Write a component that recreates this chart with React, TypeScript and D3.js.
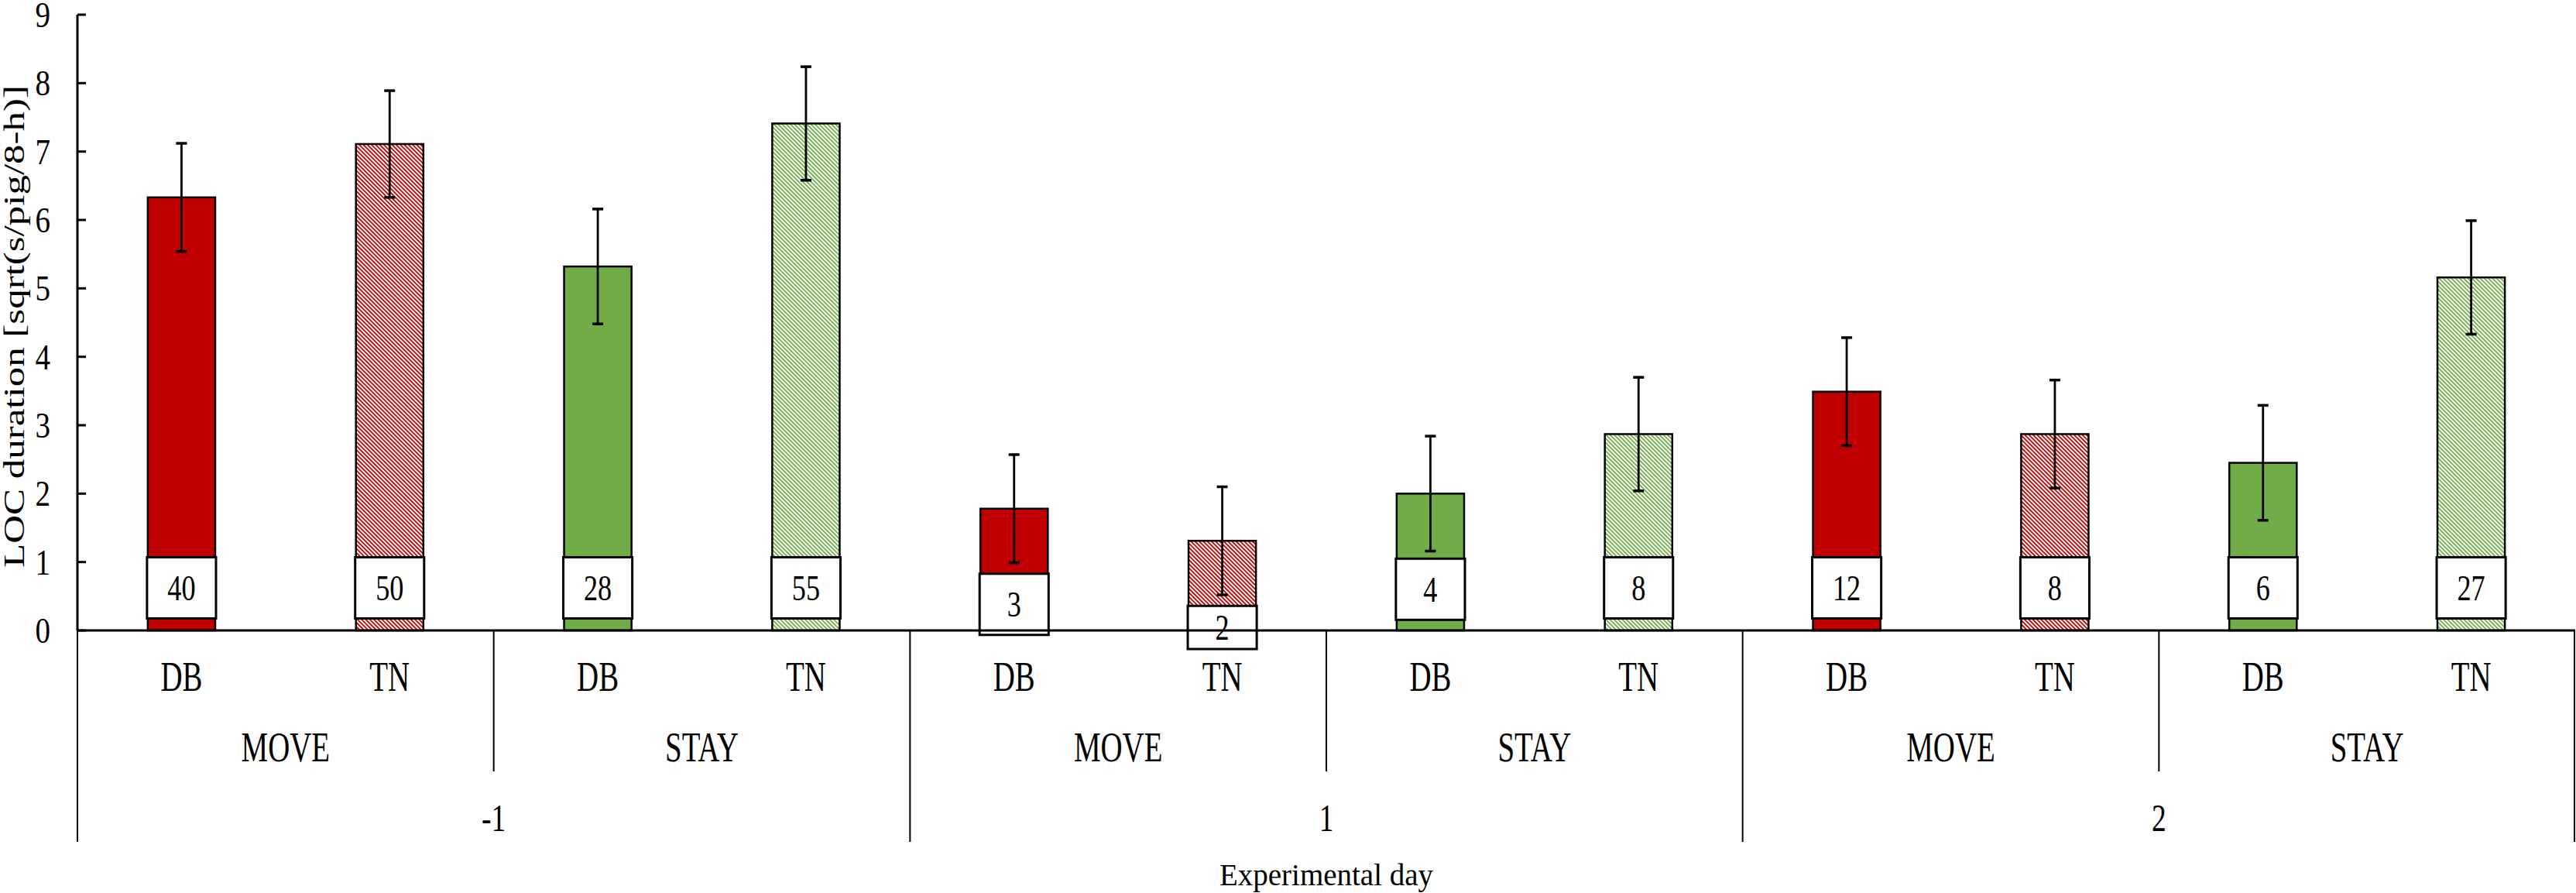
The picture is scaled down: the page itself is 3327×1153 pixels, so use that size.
import * as d3 from "d3";

// LOC duration by experimental day, group and treatment
const days = ["-1", "1", "2"];
const groups = ["MOVE", "STAY"];
const treatments = ["DB", "TN"];

// order: day > group > treatment
const means = [6.33, 7.11, 5.32, 7.41, 1.78, 1.31, 2.0, 2.87, 3.49, 2.87, 2.45, 5.16];
const errors = [0.79, 0.78, 0.84, 0.83, 0.79, 0.79, 0.84, 0.83, 0.79, 0.79, 0.84, 0.83];
const counts = [40, 50, 28, 55, 3, 2, 4, 8, 12, 8, 6, 27];

const yTicks = [0, 1, 2, 3, 4, 5, 6, 7, 8, 9];

const W = 3327;
const H = 1153;
const left = 100;
const right = 3326;
const top = 19;
const base = 814;
const plotBottom = 838; // labels get clipped here

const RED = "#C00000";
const GREEN = "#70AD47";
const FONT = "'Liberation Serif', 'Times New Roman', serif";

type Bar = { key: string; day: string; group: string; trt: string; mean: number; se: number; n: number };

const bars: Bar[] = [];
days.forEach((day) =>
  groups.forEach((group) =>
    treatments.forEach((trt) => {
      const i = bars.length;
      bars.push({ key: `${day}|${group}|${trt}`, day, group, trt, mean: means[i], se: errors[i], n: counts[i] });
    })
  )
);

export default function App() {
  const x = d3
    .scaleBand<string>()
    .domain(bars.map((b) => b.key))
    .range([left, right])
    .paddingInner(0.676)
    .paddingOuter(0.338);
  const y = d3.scaleLinear().domain([0, 9]).range([base, top]);

  const step = x.step();
  const bw = x.bandwidth();
  const cx = (k: string) => x(k)! + bw / 2;

  const groupSpan = step * treatments.length;
  const daySpan = groupSpan * groups.length;
  const x0 = x.range()[0];

  const fillFor = (b: Bar) => {
    const red = b.group === "MOVE";
    if (b.trt === "DB") return red ? RED : GREEN;
    return red ? "url(#hatchRed)" : "url(#hatchGreen)";
  };

  const boxH = 79;

  return (
    <svg
      width={W}
      height={H}
      style={{ position: "absolute", left: 0, top: 0, background: "#fff" }}
      fontFamily={FONT}
    >
      <defs>
        <pattern id="hatchRed" patternUnits="userSpaceOnUse" width={3.75} height={3.75} patternTransform="rotate(-45)">
          <rect width={3.75} height={3.75} fill="#fff" />
          <rect width={1.8} height={3.75} fill={RED} />
        </pattern>
        <pattern id="hatchGreen" patternUnits="userSpaceOnUse" width={3.75} height={3.75} patternTransform="rotate(-45)">
          <rect width={3.75} height={3.75} fill="#fff" />
          <rect width={1.8} height={3.75} fill={GREEN} />
        </pattern>
      </defs>

      {/* bars */}
      {bars.map((b) => (
        <rect
          key={b.key}
          x={x(b.key)}
          y={y(b.mean)}
          width={bw}
          height={base - y(b.mean)}
          fill={fillFor(b)}
          stroke="#000"
          strokeWidth={2.5}
        />
      ))}

      {/* error bars */}
      {bars.map((b) => {
        const c = cx(b.key);
        return (
          <g key={`e-${b.key}`} stroke="#000">
            <line x1={c} x2={c} y1={y(b.mean + b.se)} y2={y(b.mean - b.se)} strokeWidth={2.8} />
            <line x1={c - 7} x2={c + 7} y1={y(b.mean + b.se)} y2={y(b.mean + b.se)} strokeWidth={3.5} />
            <line x1={c - 7} x2={c + 7} y1={y(b.mean - b.se)} y2={y(b.mean - b.se)} strokeWidth={3.5} />
          </g>
        );
      })}

      {/* n labels */}
      {bars.map((b) => {
        const boxTop = Math.max(y(b.mean) + 84, y(1.07));
        const boxBottom = Math.min(boxTop + boxH, plotBottom);
        const c = cx(b.key);
        return (
          <g key={`n-${b.key}`}>
            <rect
              x={x(b.key)! - 1}
              y={boxTop}
              width={bw + 2}
              height={boxBottom - boxTop}
              fill="#fff"
              stroke="#000"
              strokeWidth={3}
            />
            <text
              transform={`translate(${c},${(boxTop + boxBottom) / 2 + 16}) scale(0.77,1)`}
              textAnchor="middle"
              fontSize={47}
            >
              {b.n}
            </text>
          </g>
        );
      })}

      {/* axes */}
      <line x1={left} x2={right} y1={base} y2={base} stroke="#000" strokeWidth={3} />
      <line x1={left} x2={left} y1={top} y2={base} stroke="#000" strokeWidth={3} />
      {yTicks.map((t) => (
        <g key={`t-${t}`}>
          <line x1={left} x2={left + 11} y1={y(t)} y2={y(t)} stroke="#000" strokeWidth={3} />
          <text
            transform={`translate(65,${y(t) + 16}) scale(0.85,1)`}
            textAnchor="end"
            fontSize={46}
          >
            {t}
          </text>
        </g>
      ))}

      {/* category separators */}
      {d3.range(days.length + 1).map((i) => {
        const xx = Math.min(x0 + i * daySpan, W - 2);
        return <line key={`ds-${i}`} x1={xx} x2={xx} y1={base} y2={1087} stroke="#000" strokeWidth={2} />;
      })}
      {days.map((_, i) => {
        const xx = x0 + i * daySpan + groupSpan;
        return <line key={`gs-${i}`} x1={xx} x2={xx} y1={base} y2={996} stroke="#000" strokeWidth={2} />;
      })}

      {/* treatment labels */}
      {bars.map((b) => (
        <text
          key={`l-${b.key}`}
          transform={`translate(${cx(b.key)},892) scale(0.72,1)`}
          textAnchor="middle"
          fontSize={54}
        >
          {b.trt}
        </text>
      ))}

      {/* group labels */}
      {days.map((d, i) =>
        groups.map((g, j) => (
          <text
            key={`g-${d}-${g}`}
            transform={`translate(${x0 + i * daySpan + (j + 0.5) * groupSpan},983) scale(0.72,1)`}
            textAnchor="middle"
            fontSize={54}
          >
            {g}
          </text>
        ))
      )}

      {/* day labels */}
      {days.map((d, i) => (
        <text
          key={`d-${d}`}
          transform={`translate(${x0 + (i + 0.5) * daySpan},1073) scale(0.75,1)`}
          textAnchor="middle"
          fontSize={50}
        >
          {d}
        </text>
      ))}

      <text x={(left + right) / 2} y={1143} textAnchor="middle" fontSize={39}>
        Experimental day
      </text>

      <text
        transform={`translate(19,${(top + base) / 2 + 5}) scale(0.73,1) rotate(-90)`}
        textAnchor="middle"
        dy="0.33em"
        fontSize={51}
      >
        LOC duration [sqrt(s/pig/8-h)]
      </text>
    </svg>
  );
}
